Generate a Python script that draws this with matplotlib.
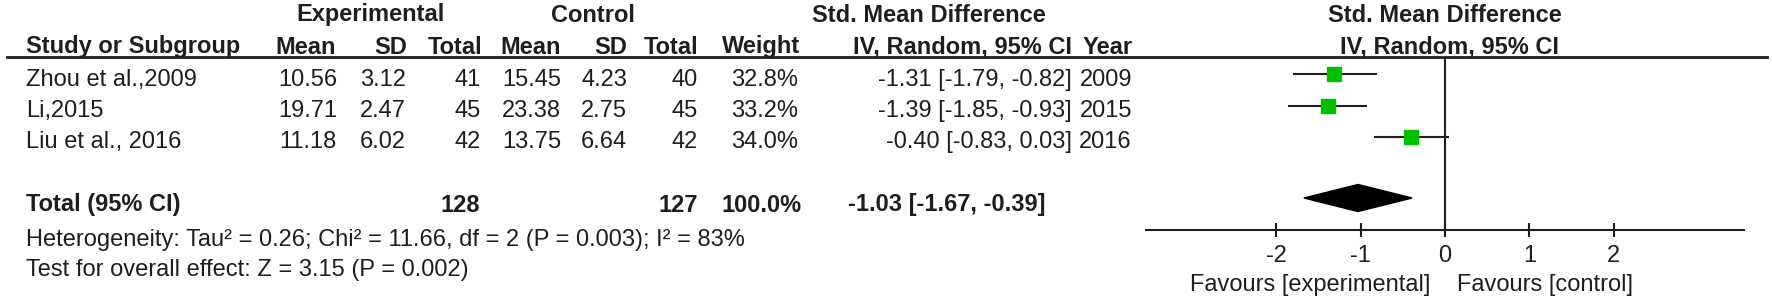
import matplotlib
matplotlib.use("Agg")
import matplotlib.pyplot as plt
import numpy as np

plt.rcParams['font.family'] = ['Liberation Sans', 'DejaVu Sans']
plt.rcParams['axes.unicode_minus'] = False

# data
studies = ["Zhou et al.,2009", "Li,2015", "Liu et al., 2016"]
exp_mean = [10.56, 19.71, 11.18]
exp_sd = [3.12, 2.47, 6.02]
exp_n = [41, 45, 42]
ctl_mean = [15.45, 23.38, 13.75]
ctl_sd = [4.23, 2.75, 6.64]
ctl_n = [40, 45, 42]
weights = [32.8, 33.2, 34.0]
smd = [-1.31, -1.39, -0.40]
ci_lo = [-1.79, -1.85, -0.83]
ci_hi = [-0.82, -0.93, 0.03]
years = [2009, 2015, 2016]

total_exp_n = 128
total_ctl_n = 127
total_weight = 100.0
total_smd = -1.03
total_lo = -1.67
total_hi = -0.39

het_text = "Heterogeneity: Tau² = 0.26; Chi² = 11.66, df = 2 (P = 0.003); I² = 83%"
effect_text = "Test for overall effect: Z = 3.15 (P = 0.002)"
ticks = [-2, -1, 0, 1, 2]

W, H = 1772, 305
fig = plt.figure(figsize=(W / 100, H / 100), dpi=100)

# background axes in pixel units for the table
bg = fig.add_axes([0, 0, 1, 1])
bg.set_xlim(0, W)
bg.set_ylim(H, 0)
bg.axis('off')

txt = '#1e1e1e'
fs = 17

def put(x, y, s, ha='right', bold=False):
    bg.text(x, y, s, ha=ha, va='center', fontsize=fs, color=txt,
            fontweight='bold' if bold else 'normal')

# headers
put(371, 15, "Experimental", ha='center', bold=True)
put(593, 15, "Control", ha='center', bold=True)
put(929, 15, "Std. Mean Difference", ha='center', bold=True)
put(1445, 15, "Std. Mean Difference", ha='center', bold=True)

hy = 47
put(26, hy, "Study or Subgroup", ha='left', bold=True)
put(336, hy, "Mean", bold=True)
put(407, hy, "SD", bold=True)
put(482, hy, "Total", bold=True)
put(561, hy, "Mean", bold=True)
put(627, hy, "SD", bold=True)
put(698, hy, "Total", bold=True)
put(800, hy, "Weight", bold=True)
put(1072, hy, "IV, Random, 95% CI", bold=True)
put(1133, hy, "Year", bold=True)
put(1450, hy, "IV, Random, 95% CI", ha='center', bold=True)

bg.plot([7, 1767], [57, 57], color=txt, lw=2)

text_y = [80, 111, 142]
for i, y in enumerate(text_y):
    put(26, y, studies[i], ha='left')
    put(337, y, f"{exp_mean[i]:.2f}")
    put(406, y, f"{exp_sd[i]:.2f}")
    put(481, y, f"{exp_n[i]}")
    put(561, y, f"{ctl_mean[i]:.2f}")
    put(627, y, f"{ctl_sd[i]:.2f}")
    put(698, y, f"{ctl_n[i]}")
    put(798, y, f"{weights[i]:.1f}%")
    put(1072, y, f"{smd[i]:.2f} [{ci_lo[i]:.2f}, {ci_hi[i]:.2f}]")
    put(1132, y, f"{years[i]}")

put(26, 205, "Total (95% CI)", ha='left', bold=True)
put(480, 205, f"{total_exp_n}", bold=True)
put(698, 205, f"{total_ctl_n}", bold=True)
put(802, 205, f"{total_weight:.1f}%", bold=True)
put(1046, 205, f"{total_smd:.2f} [{total_lo:.2f}, {total_hi:.2f}]", bold=True)
put(26, 240, het_text, ha='left')
put(26, 270, effect_text, ha='left')

# forest plot axes: bottom spine is the scale axis
x0, x1, ytop, ybot = 1146, 1744, 57, 230
ax = fig.add_axes([x0 / W, (H - ybot) / H, (x1 - x0) / W, (ybot - ytop) / H])
ax.set_xlim(-3.54, 3.54)
ax.set_ylim(ybot, ytop)
ax.patch.set_alpha(0)
for side in ['top', 'left', 'right']:
    ax.spines[side].set_visible(False)
ax.spines['bottom'].set_linewidth(1.5)
ax.spines['bottom'].set_color(txt)
ax.set_yticks([])
ax.set_xticks(ticks)
ax.set_xticklabels([str(t) for t in ticks])
ax.tick_params(axis='x', direction='inout', length=10, width=1.5, color=txt,
               labelsize=fs, labelcolor=txt, pad=6)

ax.axvline(0, color=txt, lw=1.5)

green = '#00c000'
mark_y = [74, 106, 137]
for i, y in enumerate(mark_y):
    ax.plot([ci_lo[i], ci_hi[i]], [y, y], color=txt, lw=1.5, zorder=2)
    ax.plot(smd[i], y, marker='s', color=green, mec=green,
            ms=10 * np.sqrt(weights[i] / 33.3), zorder=3)

dy = 198
ax.fill([total_lo, total_smd, total_hi, total_smd],
        [dy, dy - 13.5, dy, dy + 13.5], color='black', zorder=3)

ax.text(-0.17, 285, "Favours [experimental]", ha='right', va='center',
        fontsize=fs, color=txt, clip_on=False)
ax.text(0.14, 285, "Favours [control]", ha='left', va='center',
        fontsize=fs, color=txt, clip_on=False)

fig.savefig("out.png", dpi=100)
